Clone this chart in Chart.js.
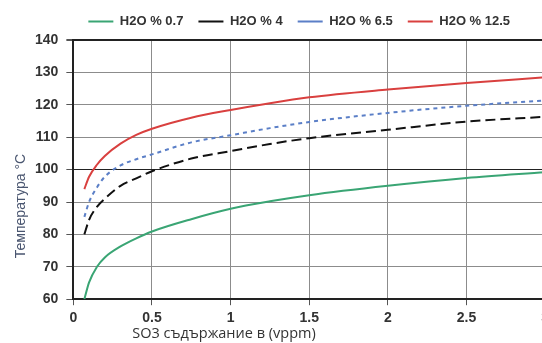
<!DOCTYPE html>
<html>
<head>
<meta charset="utf-8">
<script src="https://cdn.jsdelivr.net/npm/chart.js@4/dist/chart.umd.min.js"></script>
<style>
    html, body { margin: 0; padding: 0; background: #fff; overflow: hidden; }
    #wrap { width: 554px; height: 343px; }
</style>
</head>
<body>
<div id="wrap"><canvas id="so3Chart"></canvas></div>
<script>
const so3 = [0.07, 0.1, 0.15, 0.2, 0.3, 0.4, 0.5, 0.75, 1, 1.25, 1.5, 2, 2.5, 3];
const h2o07 = [60, 65.2, 70, 72.9, 76.3, 78.8, 80.9, 84.7, 87.9, 90.2, 92.1, 95, 97.4, 99.2];
const h2o4 = [80, 84.5, 88.5, 91, 95, 97.3, 99.5, 103.4, 105.7, 107.9, 109.7, 112.3, 114.8, 116.3];
const h2o65 = [85.4, 90, 94.5, 97.8, 101.3, 103.2, 104.7, 108.4, 110.6, 112.8, 114.7, 117.5, 119.7, 121.3];
const h2o125 = [94, 97.8, 101.5, 104.2, 108, 110.7, 112.6, 116, 118.4, 120.5, 122.3, 124.7, 126.7, 128.5];
const seriesNames = ["H2O % 0.7", "H2O % 4", "H2O % 6.5", "H2O % 12.5"];
const xTicks = [0, 0.5, 1, 1.5, 2, 2.5, 3];
const yTicks = [60, 70, 80, 90, 100, 110, 120, 130, 140];
const darkLines = [100, 140];
const xTitle = "SO3 съдържание в (vppm)";
const yTitle = "Температура °C";

function points(ys) {
    return so3.map((x, i) => ({ x: x, y: ys[i] }));
}

function makeSet(label, ys, color, dash) {
    return {
        label: label,
        data: points(ys),
        borderColor: color,
        backgroundColor: color,
        borderWidth: 2,
        borderDash: dash,
        pointRadius: 0,
        pointStyle: "line",
        cubicInterpolationMode: "monotone",
        showLine: true,
        fill: false
    };
}

// legend gets a fixed height so the plot starts at the same place as the scan
const legendSpacer = {
    id: "legendSpacer",
    beforeInit(chart) {
        const fit = chart.legend.fit;
        chart.legend.fit = function () {
            fit.call(this);
            this.height = 40;
        };
    }
};

// the axis titles in the original sit off-centre, so draw them by hand
const axisTitles = {
    id: "axisTitles",
    afterDraw(chart) {
        const c = chart.ctx;
        c.save();
        c.textAlign = "center";
        c.textBaseline = "middle";
        c.fillStyle = "#333";
        c.font = "14.5px 'Open Sans', sans-serif";
        c.fillText(xTitle, 224, 334);
        c.translate(21, 206);
        c.rotate(-Math.PI / 2);
        c.fillStyle = "#4a5670";
        c.font = "14px 'Liberation Sans', Arial, sans-serif";
        c.fillText(yTitle, 0, 0);
        c.restore();
    }
};

const tickFont = { family: "Liberation Sans, Arial, sans-serif", size: 14, weight: "bold" };
const isDark = c => c.tick && darkLines.includes(c.tick.value);

const ctx = document.getElementById("so3Chart").getContext("2d");
new Chart(ctx, {
    type: "scatter",
    data: {
        datasets: [
            makeSet(seriesNames[0], h2o07, "#3aa574", []),
            makeSet(seriesNames[1], h2o4, "#111111", [10, 5]),
            makeSet(seriesNames[2], h2o65, "#5b7fc7", [4, 4]),
            makeSet(seriesNames[3], h2o125, "#d9403f", [])
        ]
    },
    plugins: [legendSpacer, axisTitles],
    options: {
        responsive: true,
        maintainAspectRatio: false,
        animation: false,
        layout: { padding: { top: 0, left: 27, right: 0, bottom: 11 } },
        plugins: {
            tooltip: { enabled: false },
            legend: {
                position: "top",
                align: "start",
                fullSize: false,
                labels: {
                    usePointStyle: true,
                    pointStyleWidth: 25,
                    boxHeight: 8,
                    padding: 15,
                    color: "#333",
                    font: { family: "Liberation Sans, Arial, sans-serif", size: 13, weight: "bold" }
                }
            }
        },
        scales: {
            x: {
                type: "linear",
                min: 0,
                max: 3,
                afterBuildTicks: axis => { axis.ticks = xTicks.map(v => ({ value: v })); },
                grid: { color: "#8c8c8c", tickLength: 6, tickColor: "#555" },
                border: { color: "#222", width: 2 },
                ticks: {
                    color: "#333",
                    padding: 5,
                    font: tickFont,
                    callback: v => String(v)
                }
            },
            y: {
                min: 60,
                max: 140,
                afterBuildTicks: axis => { axis.ticks = yTicks.map(v => ({ value: v })); },
                grid: {
                    color: c => (isDark(c) ? "#222" : "#8c8c8c"),
                    lineWidth: c => (c.tick && c.tick.value === 140 ? 2 : 1),
                    tickLength: 7,
                    tickColor: "#555"
                },
                border: { color: "#222", width: 2 },
                ticks: {
                    color: "#333",
                    padding: 8,
                    font: tickFont
                }
            }
        }
    }
});
</script>
</body>
</html>
